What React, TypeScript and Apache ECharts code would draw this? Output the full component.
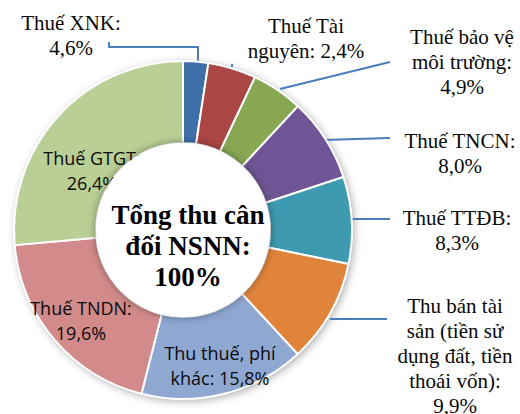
import React, { useEffect, useRef } from "react";
import * as echarts from "echarts";

// Slices clockwise from 12 o'clock
const names = [
  "Thuế Tài\nnguyên",
  "Thuế XNK",
  "Thuế bảo vệ\nmôi trường",
  "Thuế TNCN",
  "Thuế TTĐB",
  "Thu bán tài\nsản (tiền sử\ndụng đất, tiền\nthoái vốn)",
  "Thu thuế, phí\nkhác",
  "Thuế TNDN",
  "Thuế GTGT",
];
const values = [2.4, 4.6, 4.9, 8.0, 8.3, 9.9, 15.8, 19.6, 26.4];
const valueOnNewLine = [false, true, true, true, true, true, false, true, true];
const insideLabel = [false, false, false, false, false, false, true, true, true];
const centerLines = ["Tổng thu cân", "đối NSNN:", "100%"];

const colors = [
  "#3F6FA8",
  "#AA4644",
  "#87A752",
  "#6F5595",
  "#3E9AB0",
  "#E0843B",
  "#8FA8D2",
  "#D28B8A",
  "#B9CF95",
];

// label placement (layout, not data)
const labelSpots: { x: number; y: number; line?: number[][] }[] = [
  { x: 306, y: 38, line: [[232, 67], [232, 64]] },
  { x: 71, y: 35, line: [[198, 62], [198, 47], [109, 47], [109, 42]] },
  { x: 462, y: 62, line: [[280, 89], [390, 62]] },
  { x: 460, y: 153, line: [[323, 140], [390, 138]] },
  { x: 457, y: 230, line: [[343, 219], [390, 219]] },
  { x: 455, y: 356, line: [[330, 319], [387, 319]] },
  { x: 220, y: 365 },
  { x: 81, y: 320 },
  { x: 92, y: 170 },
];

const fmt = (v: number) => v.toFixed(1).replace(".", ",") + "%";

export default function App() {
  const ref = useRef<HTMLDivElement>(null);
  useEffect(() => {
    document.body.style.margin = "0";
    const chart = echarts.init(ref.current!, null, { renderer: "svg" });
    const center = [183, 230];
    const data = names.map((n, i) => ({
      name: n,
      value: values[i],
      itemStyle: { color: colors[i] },
      label: insideLabel[i]
        ? {
            fontFamily: "Open Sans",
            fontSize: 18,
            lineHeight: 25,
            color: "#0a0a0a",
          }
        : {
            fontFamily: "Liberation Serif",
            fontSize: 21,
            lineHeight: 25,
            color: "#0a0a0a",
          },
      labelLine: { show: !insideLabel[i] },
    }));
    chart.setOption({
      animation: false,
      backgroundColor: "#ffffff",
      series: [
        {
          type: "pie",
          z: 1,
          silent: true,
          center,
          radius: [87, 169],
          label: { show: false },
          labelLine: { show: false },
          itemStyle: {
            color: "#ffffff",
            shadowBlur: 8,
            shadowColor: "rgba(0,0,0,0.35)",
            shadowOffsetX: 2,
            shadowOffsetY: 2,
          },
          data: [{ value: 1, name: "shadow" }],
        },
        {
          type: "pie",
          z: 2,
          center,
          radius: [87, 169],
          startAngle: 90,
          clockwise: true,
          avoidLabelOverlap: false,
          itemStyle: { borderColor: "#ffffff", borderWidth: 2 },
          emphasis: { disabled: true },
          label: {
            show: true,
            position: "outside",
            align: "center",
            formatter: (p: any) =>
              p.name + ":" + (valueOnNewLine[p.dataIndex] ? "\n" : " ") + fmt(p.value),
          },
          labelLine: {
            show: true,
            lineStyle: { color: "#4A7EBB", width: 2 },
          },
          labelLayout: (p: any) => {
            const s = labelSpots[p.dataIndex];
            const o: any = { x: s.x, y: s.y, align: "center", verticalAlign: "middle" };
            if (s.line) o.labelLinePoints = s.line;
            return o;
          },
          data,
        },
        {
          type: "pie",
          z: 3,
          silent: true,
          center,
          radius: [0, 87],
          label: { show: false },
          labelLine: { show: false },
          itemStyle: {
            color: "#ffffff",
            shadowBlur: 8,
            shadowColor: "rgba(0,0,0,0.45)",
          },
          data: [{ value: 1, name: "hole" }],
        },
      ],
      graphic: [
        {
          type: "text",
          z: 100,
          x: 188,
          y: 246,
          style: {
            text: centerLines.join("\n"),
            fontFamily: "Liberation Serif",
            fontWeight: "bold",
            fontSize: 27,
            lineHeight: 31,
            fill: "#000",
            align: "center",
            verticalAlign: "middle",
          },
        },
      ],
    });
    return () => chart.dispose();
  }, []);
  return <div ref={ref} style={{ width: 520, height: 414 }} />;
}
